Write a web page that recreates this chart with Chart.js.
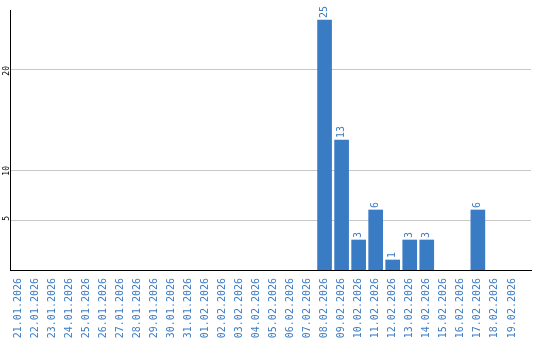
<!DOCTYPE html>
<html lang="en">
<head>
    <meta charset="UTF-8">
    <title>Daily count</title>
    <script src="https://cdn.jsdelivr.net/npm/chart.js@4.4.1/dist/chart.umd.min.js"></script>
    <style>
        body { margin: 0; background: #ffffff; }
        #wrap { width: 540px; height: 340px; }
    </style>
</head>
<body>
    <div id="wrap"><canvas id="dailyChart" width="540" height="340"></canvas></div>
    <script>
        // data
        const dates = ['21.01.2026', '22.01.2026', '23.01.2026', '24.01.2026', '25.01.2026', '26.01.2026',
            '27.01.2026', '28.01.2026', '29.01.2026', '30.01.2026', '31.01.2026', '01.02.2026', '02.02.2026',
            '03.02.2026', '04.02.2026', '05.02.2026', '06.02.2026', '07.02.2026', '08.02.2026', '09.02.2026',
            '10.02.2026', '11.02.2026', '12.02.2026', '13.02.2026', '14.02.2026', '15.02.2026', '16.02.2026',
            '17.02.2026', '18.02.2026', '19.02.2026'];
        const counts = [0, 0, 0, 0, 0, 0, 0, 0, 0, 0, 0, 0, 0, 0, 0, 0, 0, 0, 25, 13, 3, 6, 1, 3, 3, 0, 0, 6, 0, 0];
        const yTicks = [5, 10, 20];

        const blue = '#3a7cc4';
        const mono = 'DejaVu Sans Mono';

        // value written above each bar, turned on its side
        const barValues = {
            id: 'barValues',
            afterDatasetsDraw(chart) {
                const ctx = chart.ctx;
                const meta = chart.getDatasetMeta(0);
                ctx.save();
                ctx.fillStyle = blue;
                ctx.font = '10px "' + mono + '"';
                ctx.textAlign = 'left';
                ctx.textBaseline = 'middle';
                meta.data.forEach((bar, i) => {
                    if (!counts[i]) return;
                    ctx.save();
                    ctx.translate(bar.x, bar.y - 2);
                    ctx.rotate(-Math.PI / 2);
                    ctx.fillText(String(counts[i]), 0, 0);
                    ctx.restore();
                });
                ctx.restore();
            }
        };

        new Chart(document.getElementById('dailyChart'), {
            type: 'bar',
            data: {
                datasets: [{
                    // empty days get no bar at all
                    data: dates.map((d, i) => ({ x: i, y: counts[i] || null })),
                    backgroundColor: blue,
                    barThickness: 14
                }]
            },
            options: {
                responsive: false,
                animation: false,
                layout: { padding: { top: 10, right: 9, left: 0, bottom: 0 } },
                plugins: { legend: { display: false }, tooltip: { enabled: false } },
                scales: {
                    x: {
                        type: 'linear',
                        offset: false,
                        min: -0.47,
                        max: 30.12,
                        afterBuildTicks: (s) => { s.ticks = dates.map((d, i) => ({ value: i })); },
                        afterFit: (s) => {
                            s.height = 70;
                            s.paddingLeft = 0;
                            s.paddingRight = 0;
                        },
                        grid: { display: false, drawTicks: false },
                        border: { color: '#000000', width: 1 },
                        ticks: {
                            autoSkip: false,
                            minRotation: 90,
                            maxRotation: 90,
                            padding: 8,
                            color: blue,
                            font: { family: mono, size: 10 },
                            callback: (v) => dates[v] || ''
                        }
                    },
                    y: {
                        min: 0,
                        max: 26,
                        afterBuildTicks: (s) => { s.ticks = yTicks.map(v => ({ value: v })); },
                        afterFit: (s) => {
                            s.width = 10;
                            s.paddingTop = 0;
                            s.paddingBottom = 0;
                        },
                        grid: { color: '#c8c8c8', drawTicks: false },
                        border: { color: '#000000', width: 1 },
                        ticks: {
                            minRotation: 90,
                            maxRotation: 90,
                            padding: 3,
                            labelOffset: -4,
                            color: '#000000',
                            font: { family: mono, size: 8 }
                        }
                    }
                }
            },
            plugins: [barValues]
        });
    </script>
</body>
</html>
